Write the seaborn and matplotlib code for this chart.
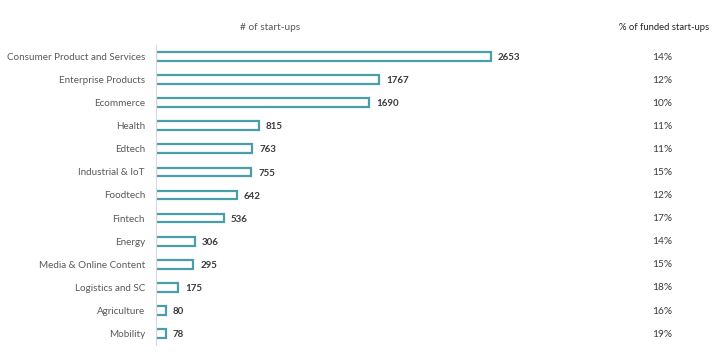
import matplotlib
matplotlib.use("Agg")
import matplotlib.pyplot as plt
import matplotlib.transforms as mtransforms
import seaborn as sns
import pandas as pd

categories = ["Consumer Product and Services", "Enterprise Products", "Ecommerce",
              "Health", "Edtech", "Industrial & IoT", "Foodtech", "Fintech", "Energy",
              "Media & Online Content", "Logistics and SC", "Agriculture", "Mobility"]
startups = [2653, 1767, 1690, 815, 763, 755, 642, 536, 306, 295, 175, 80, 78]
funded_pct = ["14%", "12%", "10%", "11%", "11%", "15%", "12%", "17%", "14%", "15%", "18%", "16%", "19%"]

sns.set_theme(style="white")
plt.rcParams["font.family"] = ["Lato", "DejaVu Sans"]

teal = "#4a9ea7"
label_col = "#595959"
value_col = "#3a3a3a"

df = pd.DataFrame({"category": categories, "startups": startups})

fig = plt.figure(figsize=(7.2, 3.54), dpi=100)
ax = fig.add_axes([156/720, 9/354, 444/720, 300/354])

sns.barplot(data=df, x="startups", y="category", ax=ax, orient="h",
            color="white", edgecolor=teal, linewidth=1.6, width=0.38,
            saturation=1, order=categories)

ax.set_xlim(0, 444/0.1263)
ax.set_ylim(12.5, -0.5)
ax.set_xlabel("")
ax.set_ylabel("")
ax.set_xticks([])
ax.tick_params(axis="y", length=0, pad=8, labelsize=7.1, labelcolor=label_col)
for s in ["top", "right", "bottom"]:
    ax.spines[s].set_visible(False)
ax.spines["left"].set_color("#d9d9d9")
ax.spines["left"].set_linewidth(0.8)

for i, v in enumerate(startups):
    ax.annotate(str(v), xy=(v, i), xytext=(5, -0.8), textcoords="offset points",
                ha="left", va="center", fontsize=7, fontweight="bold", color=value_col)

trans = mtransforms.blended_transform_factory(fig.transFigure, ax.transData)
for i, p in enumerate(funded_pct):
    ax.text(662/720, i + 0.03, p, transform=trans, ha="center", va="center",
            fontsize=7.3, color=value_col)

fig.text(270/720, 1 - 27/354, "# of start-ups", ha="center", va="center",
         fontsize=7.3, color=label_col)
fig.text(664/720, 1 - 27/354, "% of funded start-ups", ha="center", va="center",
         fontsize=6.8, color="#262626")

fig.savefig("out.png", dpi=100, facecolor="white")
